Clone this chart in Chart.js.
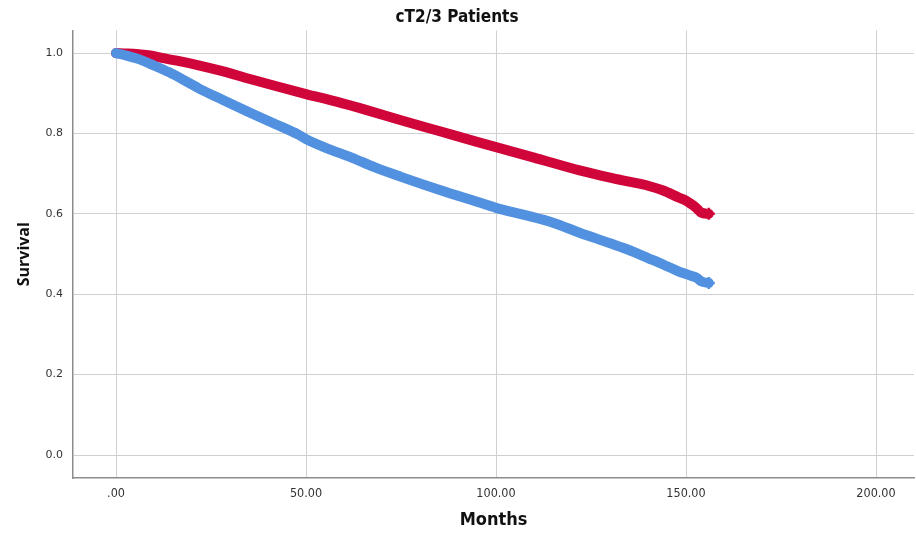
<!DOCTYPE html>
<html>
<head>
<meta charset="utf-8">
<script src="https://cdn.jsdelivr.net/npm/chart.js@4"></script>
<style>
  html, body { margin: 0; padding: 0; background: #ffffff; overflow: hidden; }
  #wrap { width: 916px; height: 533px; position: relative; }
</style>
</head>
<body>
<div id="wrap"><canvas id="c"></canvas></div>
<script>
// ---- Data ----
const titleText = 'cT2/3 Patients';
const xAxisTitle = 'Months';
const yAxisTitle = 'Survival';

const xTickValues = [0, 50, 100, 150, 200];
const xTickLabels = ['.00', '50.00', '100.00', '150.00', '200.00'];
const yTickValues = [0, 0.2, 0.4, 0.6, 0.8, 1.0];
const yTickLabels = ['0.0', '0.2', '0.4', '0.6', '0.8', '1.0'];

// Red group (upper curve)
const redMonths   = [0, 3, 6, 9, 12, 16, 22, 28, 35, 42, 50, 58, 66, 75, 85, 95, 100, 110, 122, 130, 135, 140, 144, 148, 150, 152, 153, 154, 156];
const redSurvival = [1.0, 0.999, 0.997, 0.994, 0.988, 0.981, 0.969, 0.955, 0.936, 0.918, 0.898, 0.879, 0.858, 0.833, 0.806, 0.779, 0.766, 0.740, 0.708, 0.690, 0.680, 0.670, 0.658, 0.641, 0.633, 0.620, 0.612, 0.603, 0.600];

// Blue group (lower curve)
const blueMonths   = [0, 3, 6, 9, 14, 18, 22, 28, 35, 42, 48, 50, 55, 62, 68, 75, 85, 95, 100, 108, 115, 122, 130, 135, 140, 144, 148, 151, 153, 154, 156];
const blueSurvival = [1.0, 0.993, 0.985, 0.973, 0.952, 0.932, 0.911, 0.884, 0.853, 0.823, 0.797, 0.786, 0.765, 0.740, 0.716, 0.692, 0.660, 0.630, 0.615, 0.596, 0.578, 0.553, 0.527, 0.510, 0.490, 0.474, 0.457, 0.447, 0.440, 0.432, 0.428];

// ---- Build chart ----
const toPts = (xs, ys) => xs.map((x, i) => ({x: x, y: ys[i]}));
const endMarker = (n) => Array.from({length: n}, (_, i) => i === n - 1 ? 6 : 0);

const RED = '#D0063A';
const BLUE = '#5291E0';

new Chart(document.getElementById('c'), {
  type: 'line',
  data: {
    datasets: [
      {
        label: 'blue',
        data: toPts(blueMonths, blueSurvival),
        borderColor: BLUE,
        backgroundColor: BLUE,
        borderWidth: 10,
        borderCapStyle: 'round',
        borderJoinStyle: 'round',
        pointStyle: 'cross',
        pointRadius: endMarker(blueMonths.length),
        pointBorderWidth: 2.5,
        pointHoverRadius: 0,
        cubicInterpolationMode: 'monotone',
        fill: false
      },
      {
        label: 'red',
        data: toPts(redMonths, redSurvival),
        borderColor: RED,
        backgroundColor: RED,
        borderWidth: 10,
        borderCapStyle: 'round',
        borderJoinStyle: 'round',
        pointStyle: 'cross',
        pointRadius: endMarker(redMonths.length),
        pointBorderWidth: 2.5,
        pointHoverRadius: 0,
        cubicInterpolationMode: 'monotone',
        fill: false
      }
    ]
  },
  options: {
    responsive: true,
    maintainAspectRatio: false,
    animation: false,
    events: [],
    layout: { autoPadding: false, padding: { left: 0, right: 2, top: 0, bottom: 0 } },
    plugins: {
      legend: { display: false },
      tooltip: { enabled: false },
      title: {
        display: true,
        text: titleText,
        color: '#111',
        font: { family: '"Liberation Sans Narrow", "DejaVu Sans Condensed", sans-serif', size: 17, weight: 'bold' },
        padding: { top: 7, bottom: 3 }
      }
    },
    scales: {
      x: {
        type: 'linear',
        min: -11.32,
        max: 210.0,
        afterBuildTicks: (s) => { s.ticks = xTickValues.map(v => ({value: v})); },
        afterFit: (s) => { s.height = 55; s.paddingLeft = 0; s.paddingRight = 0; },
        ticks: {
          autoSkip: false,
          maxRotation: 0,
          padding: 8,
          color: '#333',
          font: { family: '"Liberation Sans Narrow", "DejaVu Sans Condensed", sans-serif', size: 12.5 },
          callback: (v) => { const i = xTickValues.indexOf(v); return i >= 0 ? xTickLabels[i] : ''; }
        },
        grid: { color: '#d0d0d0', lineWidth: 1, drawTicks: false },
        border: { display: true, color: '#8c8c8c', width: 1.5 },
        title: {
          display: true,
          text: xAxisTitle,
          color: '#111',
          font: { family: '"Liberation Sans Narrow", "DejaVu Sans Condensed", sans-serif', size: 18, weight: 'bold' },
          padding: { top: 0, bottom: 2 }
        }
      },
      y: {
        type: 'linear',
        min: -0.0572,
        max: 1.0564,
        afterBuildTicks: (s) => { s.ticks = yTickValues.map(v => ({value: v})); },
        afterFit: (s) => { s.width = 73; s.paddingTop = 0; s.paddingBottom = 0; },
        ticks: {
          autoSkip: false,
          padding: 10,
          color: '#333',
          font: { family: '"DejaVu Sans", sans-serif', size: 11 },
          callback: (v) => { const i = yTickValues.findIndex(t => Math.abs(t - v) < 1e-9); return i >= 0 ? yTickLabels[i] : ''; }
        },
        grid: { color: '#d0d0d0', lineWidth: 1, drawTicks: false },
        border: { display: true, color: '#8c8c8c', width: 1.5 },
        title: {
          display: true,
          text: yAxisTitle,
          color: '#111',
          font: { family: '"Open Sans", "DejaVu Sans", sans-serif', size: 16, weight: 'bold' },
          padding: { top: 15, bottom: 0 }
        }
      }
    }
  }
});
</script>
</body>
</html>
